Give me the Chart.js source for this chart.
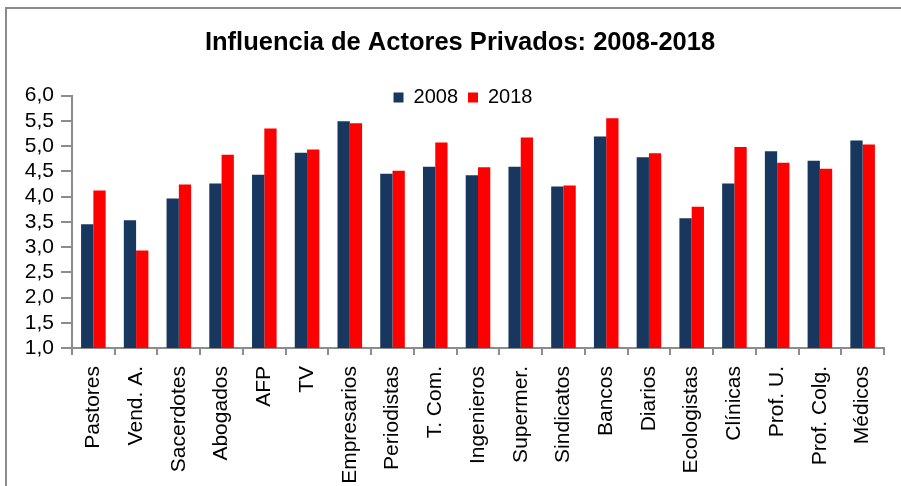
<!DOCTYPE html>
<html>
<head>
<meta charset="utf-8">
<script src="https://cdn.jsdelivr.net/npm/chart.js@4/dist/chart.umd.min.js"></script>
<style>
  html, body { margin: 0; padding: 0; background: #fff; overflow: hidden; }
  #wrap { position: relative; width: 901px; height: 486px; }
  #frame {
    position: absolute; left: 5px; top: 7px; width: 900px; height: 520px;
    border-left: 2px solid #8a8a8a; border-top: 2px solid #8a8a8a;
  }
  #chart { position: absolute; left: 0; top: 0; }
</style>
</head>
<body>
<div id="wrap">
  <div id="frame"></div>
  <canvas id="chart" width="901" height="486"></canvas>
</div>
<script>
var categories = ['Pastores', 'Vend. A.', 'Sacerdotes', 'Abogados', 'AFP', 'TV', 'Empresarios',
  'Periodistas', 'T. Com.', 'Ingenieros', 'Supermer.', 'Sindicatos', 'Bancos', 'Diarios',
  'Ecologistas', 'Clínicas', 'Prof. U.', 'Prof. Colg.', 'Médicos'];
var values2008 = [3.45, 3.53, 3.96, 4.26, 4.43, 4.87, 5.49, 4.45, 4.59, 4.42, 4.59, 4.20, 5.19, 4.78, 3.57, 4.26, 4.90, 4.71, 5.11];
var values2018 = [4.12, 2.93, 4.24, 4.83, 5.35, 4.93, 5.45, 4.51, 5.07, 4.58, 5.17, 4.22, 5.55, 4.86, 3.80, 4.98, 4.67, 4.55, 5.03];
var yMin = 1, yMax = 6, yStep = 0.5;

var axisGrey = '#8c8c8c';
var font = 'Arial, "Liberation Sans", sans-serif';

// move title and legend to where they sit in the original
var shiftBoxes = {
  id: 'shiftBoxes',
  afterLayout: function(chart) {
    var lg = chart.legend, tt = chart.titleBlock;
    lg.left += 21; lg.right += 21;
    lg.top += 22; lg.bottom += 22;
    tt.left += 18; tt.right += 18;
    tt.top += 3; tt.bottom += 3;
  }
};

var ctx = document.getElementById('chart');
var chart = new Chart(ctx, {
  type: 'bar',
  data: {
    labels: categories,
    datasets: [{
      label: '2008',
      data: values2008,
      backgroundColor: '#17375E'
    }, {
      label: '2018',
      data: values2018,
      backgroundColor: '#FF0000'
    }]
  },
  plugins: [shiftBoxes],
  options: {
    responsive: false,
    animation: false,
    categoryPercentage: 0.575,
    barPercentage: 1.0,
    layout: { padding: { left: 0, right: 17, top: 0, bottom: 0 } },
    plugins: {
      title: {
        display: true,
        text: 'Influencia de Actores Privados: 2008-2018',
        color: '#000',
        font: { family: font, size: 25.5, weight: 'bold' },
        padding: { top: 25, bottom: 0 }
      },
      legend: {
        position: 'top',
        labels: {
          boxWidth: 10, boxHeight: 10, padding: 10,
          color: '#000',
          font: { family: font, size: 20 }
        }
      },
      tooltip: { enabled: false }
    },
    scales: {
      x: {
        grid: { display: true, drawOnChartArea: false, drawTicks: true, tickLength: 7, color: axisGrey, lineWidth: 2, offset: true },
        border: { display: true, color: axisGrey, width: 2 },
        ticks: {
          autoSkip: false, minRotation: 90, maxRotation: 90, padding: 11,
          color: '#000', font: { family: font, size: 21 }
        },
        afterFit: function(scale) { scale.height = 138; }
      },
      y: {
        min: yMin, max: yMax,
        grid: { display: true, drawOnChartArea: false, drawTicks: true, tickLength: 11, color: axisGrey, lineWidth: 2 },
        border: { display: true, color: axisGrey, width: 2 },
        ticks: {
          stepSize: yStep, padding: 7, autoSkip: false,
          color: '#000', font: { family: font, size: 21 },
          callback: function(v) { return v.toFixed(1).replace('.', ','); }
        },
        afterFit: function(scale) { scale.width = 72; }
      }
    }
  }
});
</script>
</body>
</html>
